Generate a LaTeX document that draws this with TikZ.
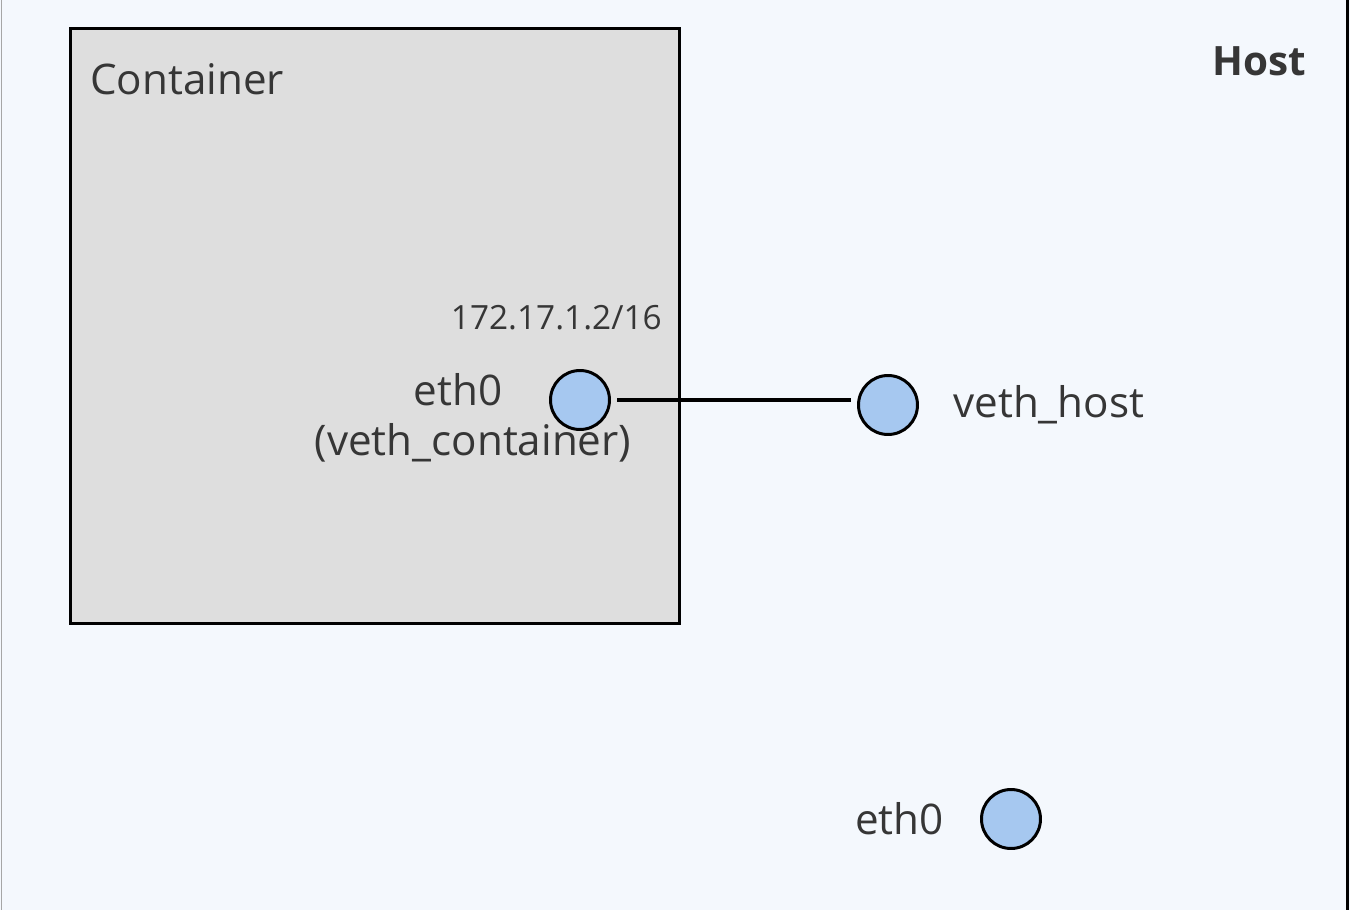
\documentclass[tikz,border=0pt]{standalone}
\usepackage{fontspec}
\setmainfont{Open Sans}
\usepackage{tikz}
\usetikzlibrary{positioning}
\definecolor{hostbg}{HTML}{F4F8FD}
\definecolor{boxgray}{HTML}{DEDEDE}
\definecolor{portblue}{HTML}{A6C8F0}
\definecolor{ink}{HTML}{363636}

\begin{document}
\begin{tikzpicture}[
    x=0.02cm, y=-0.02cm,
    box/.style={draw=black,fill=boxgray,line width=1.7pt,inner sep=0pt,outer sep=0pt,minimum width=12.18cm,minimum height=11.9cm,anchor=north west},
    port/.style={circle,draw=black,line width=1.7pt,fill=portblue,minimum size=1.18cm,inner sep=0pt},
    lbl/.style={text=ink,inner sep=0pt,font=\fontsize{24}{28}\selectfont},
    title/.style={text=ink,inner sep=0pt,anchor=base west,font=\fontsize{24}{28}\selectfont},
    link/.style={line width=2.3pt,draw=black,shorten <=3.5pt,shorten >=3.5pt}
  ]
    \useasboundingbox (0,0) rectangle (1350,910);
    % host
    \fill[hostbg] (0,0) rectangle (1350,910);
    \draw[black!35,line width=1pt] (1.5,0) -- (1.5,910);
    \draw[black,line width=1.7pt] (1347.5,0) -- (1347.5,910);
    \node[title,font=\fontsize{23}{27}\selectfont\bfseries] (host) at (1212,75) {Host};
    % container
    \node[box] (ctr) at (70.5,28.5) {};
    \node[title] (ctrl) at (90,94) {Container};
    % ports
    \node[port] (ce) at (580,400) {};
    \node[port] (vh) at (888,405) {};
    \node[port] (he) at (1011,819) {};
    \node[lbl,anchor=base east,font=\fontsize{19}{23}\selectfont] (ip) at (662,329) {172.17.1.2/16};
    \node[lbl,anchor=base] (cel) at (458,405) {eth0};
    \node[lbl,anchor=base] (cel2) at (473,455) {(veth\_container)};
    \node[lbl,right=0.68cm of vh] (vhl) {veth\_host};
    \node[lbl,left=0.72cm of he] (hel) {eth0};
    \draw[link] (ce.east) -- (ce.east -| vh.west);
  \end{tikzpicture}
\end{document}
